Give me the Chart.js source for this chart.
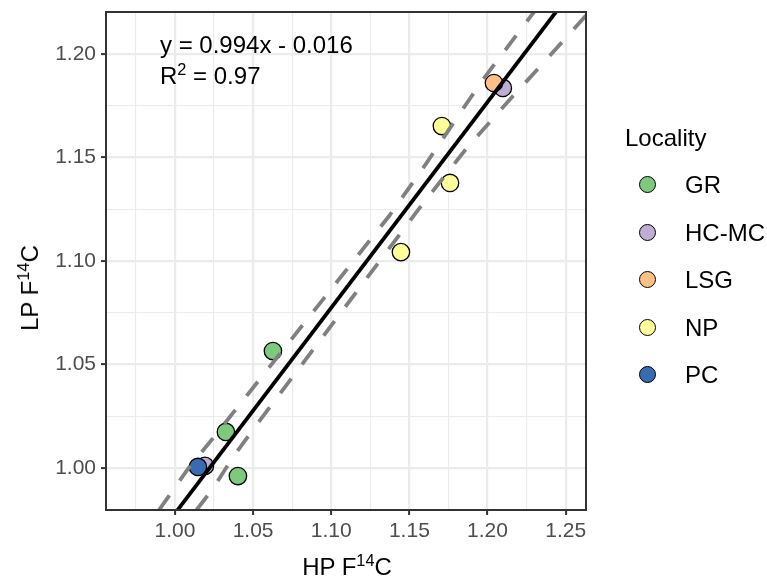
<!DOCTYPE html>
<html>
<head>
<meta charset="utf-8">
<script src="https://cdn.jsdelivr.net/npm/chart.js@4.4.1/dist/chart.umd.min.js"></script>
<style>
  html, body { margin: 0; padding: 0; background: #fff; }
  #wrap { position: relative; width: 767px; height: 579px; font-family: "Liberation Sans", Arial, sans-serif; }
  canvas { position: absolute; left: 0; top: 0; }
  .t { position: absolute; white-space: nowrap; line-height: 1; color: #000; }
  .big { font-size: 24px; }
  sup { font-size: 0.68em; vertical-align: 0; position: relative; top: -0.55em; }
  .lg { position: absolute; width: 15px; height: 15px; border-radius: 50%; border: 1.3px solid #000; box-sizing: content-box; }
</style>
</head>
<body>
<div id="wrap">
  <canvas id="c" width="767" height="579"></canvas>
  <div class="t big" style="left:160px; top:33px;">y = 0.994x - 0.016</div>
  <div class="t big" style="left:160px; top:64px;">R<sup>2</sup> = 0.97</div>
  <div class="t big" style="left:347px; top:555px; transform: translateX(-50%);">HP F<sup>14</sup>C</div>
  <div class="t big" style="left:30px; top:288px; transform: translate(-50%,-50%) rotate(-90deg);">LP F<sup>14</sup>C</div>
  <div id="legend"></div>
</div>
<script>
// ---- data ----
const localities = ["GR", "HC-MC", "LSG", "NP", "PC"];
const localityColors = ["#7FC97F", "#BEAED4", "#FDC086", "#FFFF99", "#386CB0"];

const grHP = [1.0326, 1.0403, 1.0627];
const grLP = [1.0174, 0.9961, 1.0565];
const hcmcHP = [1.0192, 1.2098];
const hcmcLP = [1.0010, 1.1836];
const lsgHP = [1.2041];
const lsgLP = [1.1860];
const npHP = [1.1708, 1.1760, 1.1446];
const npLP = [1.1652, 1.1377, 1.1043];
const pcHP = [1.0147];
const pcLP = [1.0005];

// regression line end points (y = 0.994x - 0.016)
const fitX = [1.00, 1.25];
const fitY = [0.978, 1.2265];
// dashed band lines
const upperX = [0.9898, 1.0083, 1.0250, 1.1369, 1.1606, 1.1855, 1.1983, 1.2297];
const upperY = [0.9797, 0.9995, 1.0150, 1.1216, 1.1469, 1.1749, 1.1889, 1.2203];
const lowerX = [1.0138, 1.0237, 1.0377, 1.0512, 1.1567, 1.1862, 1.2163, 1.2316, 1.2604, 1.2660];
const lowerY = [0.9797, 0.9894, 1.0058, 1.0198, 1.1258, 1.1541, 1.1797, 1.1923, 1.2164, 1.2211];

const xTicks = [0.975, 1.000, 1.025, 1.050, 1.075, 1.100, 1.125, 1.150, 1.175, 1.200, 1.225, 1.250];
const yTicks = [1.000, 1.025, 1.050, 1.075, 1.100, 1.125, 1.150, 1.175, 1.200];
const xRange = [0.9559, 1.2630];
const yRange = [0.9797, 1.2203];

// ---- helpers ----
const pts = (xs, ys) => xs.map((x, i) => ({ x: x, y: ys[i] }));
const isMajor = v => Math.abs(v * 20 - Math.round(v * 20)) < 1e-6;

function pointSet(label, xs, ys) {
  const c = localityColors[localities.indexOf(label)];
  return {
    type: 'scatter', label: label, data: pts(xs, ys),
    backgroundColor: c, borderColor: '#000', borderWidth: 1.3,
    pointRadius: 8.7, pointHoverRadius: 8.7
  };
}
function lineSet(label, xs, ys, color, dash) {
  return {
    type: 'line', label: label, data: pts(xs, ys),
    borderColor: color, borderWidth: 3.8, borderDash: dash || [],
    pointRadius: 0, fill: false, tension: 0
  };
}

const frame = {
  id: 'frame',
  afterDraw(chart) {
    const a = chart.chartArea, ctx = chart.ctx;
    ctx.save();
    ctx.strokeStyle = '#333333';
    ctx.lineWidth = 2;
    ctx.strokeRect(a.left, a.top, a.right - a.left, a.bottom - a.top);
    ctx.restore();
  }
};

function axis(range, ticks, isX) {
  return {
    type: 'linear', min: range[0], max: range[1],
    afterBuildTicks: s => { s.ticks = ticks.map(v => ({ value: v })); },
    afterFit: s => {
      if (isX) { s.height = 69; s.paddingLeft = 0; s.paddingRight = 0; }
      else { s.width = 106; s.paddingTop = 0; s.paddingBottom = 0; }
    },
    border: { display: false },
    grid: {
      color: '#EBEBEB',
      lineWidth: ctx => (ctx.tick && isMajor(ctx.tick.value)) ? 2.2 : 1.1,
      drawTicks: true, tickLength: 5,
      tickColor: ctx => (ctx.tick && isMajor(ctx.tick.value)) ? '#333333' : 'rgba(0,0,0,0)',
      tickWidth: 2
    },
    ticks: {
      autoSkip: false, maxRotation: 0, minRotation: 0,
      color: '#4D4D4D', padding: isX ? 4 : 5,
      font: { family: '"Liberation Sans", Arial, sans-serif', size: 21 },
      callback: v => isMajor(v) ? v.toFixed(2) : ''
    }
  };
}

new Chart(document.getElementById('c'), {
  data: {
    datasets: [
      lineSet('fit', fitX, fitY, '#000000'),
      lineSet('upper', upperX, upperY, '#808080', [18, 18]),
      lineSet('lower', lowerX, lowerY, '#808080', [18, 18]),
      pointSet('PC', pcHP, pcLP),
      pointSet('LSG', lsgHP, lsgLP),
      pointSet('NP', npHP, npLP),
      pointSet('GR', grHP, grLP),
      pointSet('HC-MC', hcmcHP, hcmcLP)
    ]
  },
  options: {
    responsive: false, animation: false,
    layout: { padding: { left: 0, top: 12, right: 181, bottom: 0 } },
    plugins: { legend: { display: false }, tooltip: { enabled: false } },
    scales: { x: axis(xRange, xTicks, true), y: axis(yRange, yTicks, false) }
  },
  plugins: [frame]
});

// legend (HTML, real text)
const lg = document.getElementById('legend');
const title = document.createElement('div');
title.className = 't big'; title.style.left = '625px'; title.style.top = '126px';
title.textContent = 'Locality';
lg.appendChild(title);
localities.forEach((name, i) => {
  const cy = 185 + i * 47.5;
  const dot = document.createElement('div');
  dot.className = 'lg';
  dot.style.background = localityColors[i];
  dot.style.left = (648 - 8.8) + 'px'; dot.style.top = (cy - 8.8) + 'px';
  lg.appendChild(dot);
  const tx = document.createElement('div');
  tx.className = 't big'; tx.style.left = '685px'; tx.style.top = (cy - 12) + 'px';
  tx.textContent = name;
  lg.appendChild(tx);
});
</script>
</body>
</html>
